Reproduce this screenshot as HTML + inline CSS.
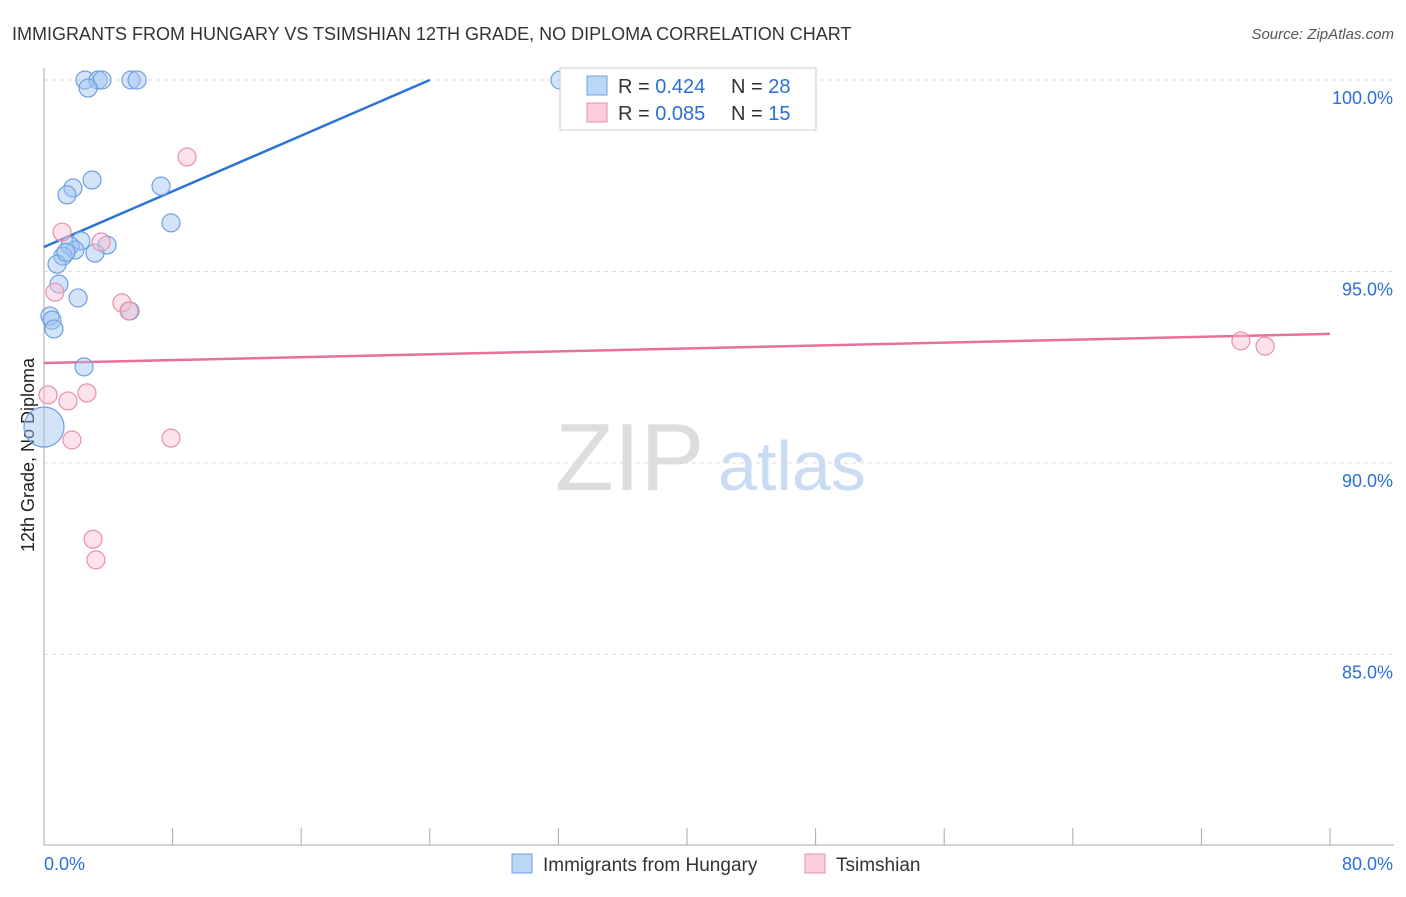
<!DOCTYPE html>
<html><head><meta charset="utf-8"><style>
body{margin:0;background:#fff;font-family:"Liberation Sans",sans-serif;}
svg text{font-family:"Liberation Sans",sans-serif;}
</style></head><body>
<svg id="chart" width="1406" height="892">
<text x="12" y="40" font-size="18" fill="#333">IMMIGRANTS FROM HUNGARY VS TSIMSHIAN 12TH GRADE, NO DIPLOMA CORRELATION CHART</text>
<text x="1394" y="39" font-size="15" fill="#555" text-anchor="end" font-style="italic">Source: ZipAtlas.com</text>
<text x="0" y="0" font-size="18" fill="#222" text-anchor="middle" transform="translate(34,455) rotate(-90)">12th Grade, No Diploma</text>
<text x="555" y="490" font-size="96" fill="#ddd" font-family="Liberation Serif">ZIP</text>
<text x="718" y="490" font-size="70" fill="#c9dcf3">atlas</text>
<g id="grid"></g><g id="axes"></g><g id="lines"></g><g id="pts"></g>
<g>
<rect x="560" y="68" width="256" height="62" fill="#fff" stroke="#ccc"/>
<rect x="587" y="76" width="20" height="19" fill="#bcd6f5" stroke="#6fa0e0"/>
<text x="618" y="93" font-size="20" fill="#333">R = <tspan fill="#2b6fd6">0.424</tspan><tspan x="731">N = </tspan><tspan fill="#2b6fd6">28</tspan></text>
<rect x="587" y="103" width="20" height="19" fill="#f9cdd9" stroke="#e890aa"/>
<text x="618" y="120" font-size="20" fill="#333">R = <tspan fill="#2b6fd6">0.085</tspan><tspan x="731">N = </tspan><tspan fill="#2b6fd6"> 15</tspan></text>
</g>
<g>
<rect x="512" y="854" width="20" height="19" fill="#bcd6f5" stroke="#6fa0e0"/>
<text x="543" y="871" font-size="19" fill="#333">Immigrants from Hungary</text>
<rect x="805" y="854" width="20" height="19" fill="#f9cdd9" stroke="#e890aa"/>
<text x="836" y="871" font-size="19" fill="#333">Tsimshian</text>
</g>
</svg>
<script>
const yTicks=[100,95,90,85];
const yTickLabels=["100.0%","95.0%","90.0%","85.0%"];
const xTickVals=[0,8,16,24,32,40,48,56,64,72,80];
const xEndLabels=["0.0%","80.0%"];
const hungaryX=[2.55,3.36,3.61,2.74,5.41,5.79,32.1,2.99,1.80,1.43,7.28,7.90,2.30,1.62,3.92,1.93,1.18,3.17,0.81,0.93,2.12,0.37,0.50,0.62,2.49,0,5.35,1.37];
const hungaryY=[100,100,100,99.79,100,100,100,97.39,97.18,97.0,97.23,96.27,95.80,95.67,95.69,95.56,95.40,95.48,95.19,94.67,94.31,93.84,93.73,93.50,92.51,90.94,93.97,95.5];
const tsimX=[8.90,1.12,3.55,0.68,4.85,5.29,0.25,1.49,2.67,1.74,7.90,3.05,3.23,74.46,75.96];
const tsimY=[97.99,96.03,95.77,94.46,94.18,93.97,91.78,91.62,91.83,90.60,90.65,88.01,87.47,93.19,93.05];
const hungaryTrend=[[0,95.64],[24.0,100]];
const tsimTrend=[[0,92.61],[80,93.37]];
const NS="http://www.w3.org/2000/svg";
const X=v=>44+v*16.075, Y=v=>80+(100-v)*38.3;
function mk(t,a,p){const e=document.createElementNS(NS,t);for(const k in a)e.setAttribute(k,a[k]);document.getElementById(p).appendChild(e);return e;}
yTicks.forEach((v,i)=>{
 const l=mk('line',{x1:44,x2:1394,y1:Y(v),y2:Y(v),stroke:'#ddd','stroke-dasharray':'4,4'},'grid');
 
 
 const t=mk('text',{x:1393,y:Y(v)+24,'font-size':18,fill:'#2b6fd6','text-anchor':'end'},'grid');t.textContent=yTickLabels[i];
 
 
});
const ax=mk('line',{x1:44,x2:44,y1:68,y2:845,stroke:'#aaa'},'axes');


const bx=mk('line',{x1:44,x2:1394,y1:845,y2:845,stroke:'#aaa'},'axes');


xTickVals.forEach(v=>{const t=mk('line',{x1:X(v),x2:X(v),y1:828,y2:845,stroke:'#aaa'},'axes');
 
 });
const xl0=mk('text',{x:44,y:870,'font-size':18,fill:'#2b6fd6'},'axes');xl0.textContent=xEndLabels[0];


const xl1=mk('text',{x:1393,y:870,'font-size':18,fill:'#2b6fd6','text-anchor':'end'},'axes');xl1.textContent=xEndLabels[1];


const tl1=mk('line',{x1:X(hungaryTrend[0][0]),y1:Y(hungaryTrend[0][1]),x2:X(hungaryTrend[1][0]),y2:Y(hungaryTrend[1][1]),stroke:'#2b73d8','stroke-width':2.5},'lines');


const tl2=mk('line',{x1:X(tsimTrend[0][0]),y1:Y(tsimTrend[0][1]),x2:X(tsimTrend[1][0]),y2:Y(tsimTrend[1][1]),stroke:'#e8709a','stroke-width':2.5},'lines');


hungaryX.forEach((v,i)=>{const r=(v===0&&hungaryY[i]<91.5)?20:9;
 const c=mk('circle',{cx:X(v),cy:Y(hungaryY[i]),r:r,fill:'rgba(160,195,240,0.45)',stroke:'#6fa0e0','stroke-width':1.2},'pts');
 
 });
tsimX.forEach((v,i)=>{const c=mk('circle',{cx:X(v),cy:Y(tsimY[i]),r:9,fill:'rgba(248,190,208,0.45)',stroke:'#e890aa','stroke-width':1.2},'pts');
 
 });
</script>
</body></html>
